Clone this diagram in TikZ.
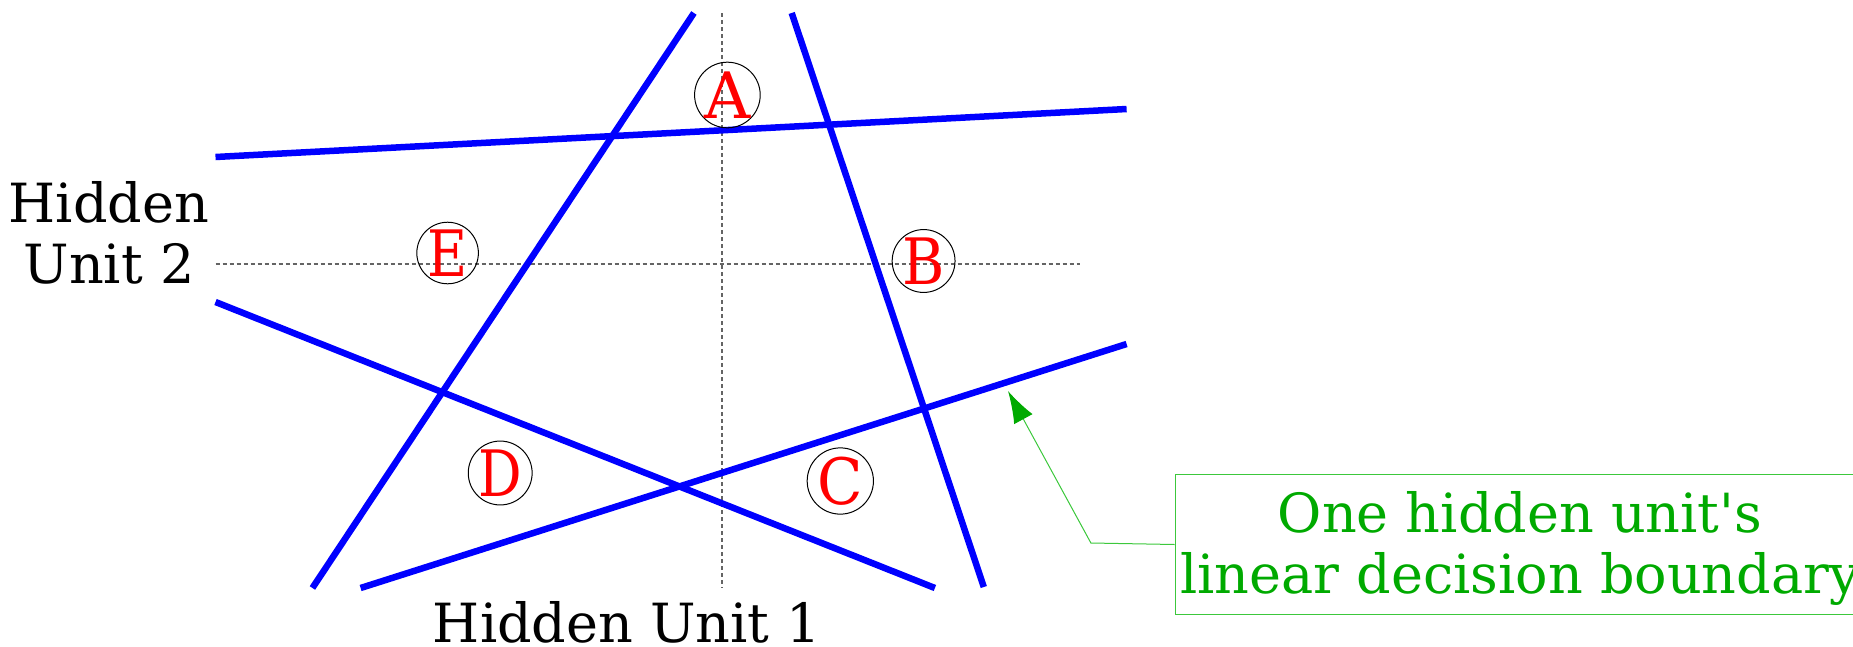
\documentclass[tikz,border=0pt]{standalone}
\usepackage{fontspec}
\setmainfont{DejaVu Serif}
\usetikzlibrary{arrows.meta}
\definecolor{bnd}{RGB}{0,0,255}
\definecolor{lbl}{RGB}{255,0,0}
\definecolor{gtext}{RGB}{0,170,0}
\definecolor{gline}{RGB}{60,200,60}
\definecolor{axisgray}{RGB}{100,100,100}
\begin{document}
\begin{tikzpicture}[x=1pt,y=-1pt,
  boundary/.style={draw=bnd,line width=6.5pt},
  axisline/.style={draw=axisgray,line width=1.3pt,dash pattern=on 4pt off 3pt},
  region/.style={circle,draw=black,line width=1pt,inner sep=0pt,minimum size=58pt,text=lbl,font=\fontsize{64}{64}\selectfont},
  axislabel/.style={anchor=base,font=\fontsize{54}{60}\selectfont},
  note/.style={anchor=base,text=gtext,font=\fontsize{54}{60}\selectfont}]
\useasboundingbox (0,0) rectangle (1853,646);
% axes
\coordinate (vtop) at (722,13);
\coordinate (vbot) at (722,588);
\coordinate (hl) at (215.5,264);
\coordinate (hr) at (1079.5,264);
\draw[axisline] (vtop) -- (vbot);
\draw[axisline] (hl) -- (hr);
% decision boundaries
\coordinate (l1a) at (312.4,588);  \coordinate (l1b) at (693.9,13);
\coordinate (l2a) at (791.7,13);   \coordinate (l2b) at (983.8,587);
\coordinate (l3a) at (215.5,157);  \coordinate (l3b) at (1126.6,109);
\coordinate (l4a) at (215.5,302);  \coordinate (l4b) at (934.9,588);
\coordinate (l5a) at (360.6,588);  \coordinate (l5b) at (1126.6,344);
\draw[boundary] (l1a) -- (l1b);
\draw[boundary] (l2a) -- (l2b);
\draw[boundary] (l3a) -- (l3b);
\draw[boundary] (l4a) -- (l4b);
\draw[boundary] (l5a) -- (l5b);
% regions
\node[region] (A) at (727.4,95) {A};
\node[region] (B) at (923.6,261) {\scalebox{0.9}[1]{B}};
\node[region] (C) at (840.3,481) {\scalebox{0.93}[1]{C}};
\node[region] (D) at (500.2,473) {\scalebox{0.85}[1]{D}};
\node[region] (E) at (447.6,253) {\scalebox{0.86}[1]{E}};
% axis labels
\node[axislabel] (h2a) at (109,222) {Hidden};
\node[axislabel] (h2b) at (109,283) {Unit 2};
\node[axislabel] (h1) at (627,642) {Hidden Unit 1};
% note
\node[draw=gline,line width=1pt,anchor=north west,minimum width=720pt,minimum height=140pt,inner sep=0pt] (box) at (1174.7,474) {};
\node[note] (n1) at (1520,532) {One hidden unit\textquotesingle s};
\node[note] (n2) at (1520,593) {linear decision boundary};
\coordinate (bend) at (1090.9,543);
\coordinate (tip) at (1008,391);
\draw[draw=gline,line width=1pt,-{Latex[length=32pt,width=21pt,color=gtext]}] (box.west) -- (bend) -- (tip);
\end{tikzpicture}
\end{document}
